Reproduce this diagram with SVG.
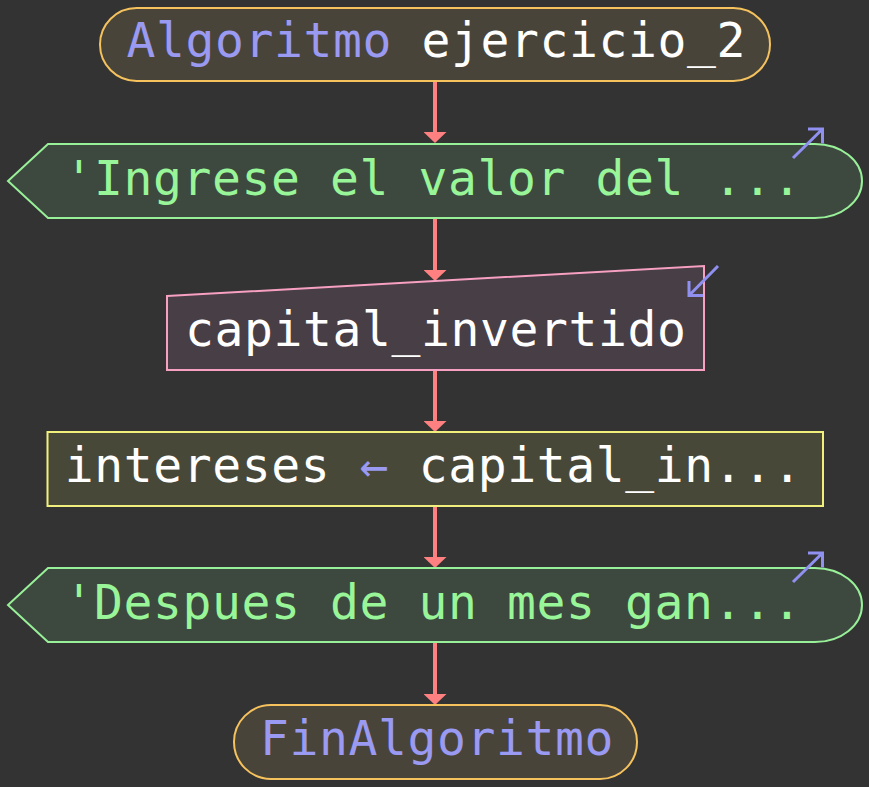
<svg xmlns="http://www.w3.org/2000/svg" width="869" height="787" viewBox="0 0 869 787">
  <style>
    .txt { font-family: "DejaVu Sans Mono", "Liberation Mono", monospace; font-size: 48px; letter-spacing: 0.6px; }
    .kw { fill: #9a9af2; }
    .plain { fill: #ffffff; }
    .str { fill: #98f598; }
    .term { fill: #49443a; stroke: #f5c25e; stroke-width: 2; }
    .out { fill: #3d483f; stroke: #98f098; stroke-width: 2; }
    .inp { fill: #483e45; stroke: #f7a0c2; stroke-width: 2; }
    .proc { fill: #484839; stroke: #f2f07c; stroke-width: 2; }
    .icon { fill: none; stroke: #9090f0; stroke-width: 3; }
    .edge { stroke: #ff8080; stroke-width: 4; fill: none; marker-end: url(#head); }
  </style>
  <defs>
    <marker id="head" markerUnits="userSpaceOnUse" viewBox="0 0 11 23" markerWidth="11" markerHeight="23" refX="0" refY="11.5" orient="auto">
      <path d="M0,0 L11,11.5 L0,23 Z" fill="#ff8080"/>
    </marker>
  </defs>

  <rect width="869" height="787" fill="#333333"/>

  <g id="connectors">
    <line class="edge" x1="435" y1="81" x2="435" y2="132"/>
    <line class="edge" x1="435" y1="218" x2="435" y2="270"/>
    <line class="edge" x1="435" y1="370" x2="435" y2="421"/>
    <line class="edge" x1="435" y1="506" x2="435" y2="557"/>
    <line class="edge" x1="435" y1="642" x2="435" y2="694"/>
  </g>

  <g id="start">
    <rect class="term" x="100" y="8" width="670" height="73" rx="36.5"/>
    <text class="txt" x="126.5" y="57"><tspan class="kw">Algoritmo</tspan><tspan class="plain"> ejercicio_2</tspan></text>
  </g>

  <g id="output1">
    <path class="out" d="M48,144 H815 A47,37 0 0 1 815,218 H48 L8,181 Z"/>
    <text class="txt str" x="64.6" y="195">'Ingrese el valor del ...</text>
    <path class="icon" d="M793,158 L822.5,129 M808,129 H822.5 V143.5"/>
  </g>

  <g id="input1">
    <path class="inp" d="M167,296 L704,266 V370 H167 Z"/>
    <text class="txt plain" x="185" y="346">capital_invertido</text>
    <path class="icon" d="M718,266 L689,295.5 M689,281 V295.5 H703"/>
  </g>

  <g id="assign1">
    <rect class="proc" x="47.5" y="432" width="775.5" height="74"/>
    <text class="txt" x="64.7" y="482"><tspan class="plain">intereses </tspan><tspan class="kw">←</tspan><tspan class="plain"> capital_in...</tspan></text>
  </g>

  <g id="output2">
    <path class="out" d="M48,568 H815 A47,37 0 0 1 815,642 H48 L8,605 Z"/>
    <text class="txt str" x="64.6" y="619">'Despues de un mes gan...</text>
    <path class="icon" d="M793,582 L822.5,553 M808,553 H822.5 V567.5"/>
  </g>

  <g id="end">
    <rect class="term" x="234" y="705" width="403" height="74" rx="37"/>
    <text class="txt kw" x="260" y="755">FinAlgoritmo</text>
  </g>
</svg>
